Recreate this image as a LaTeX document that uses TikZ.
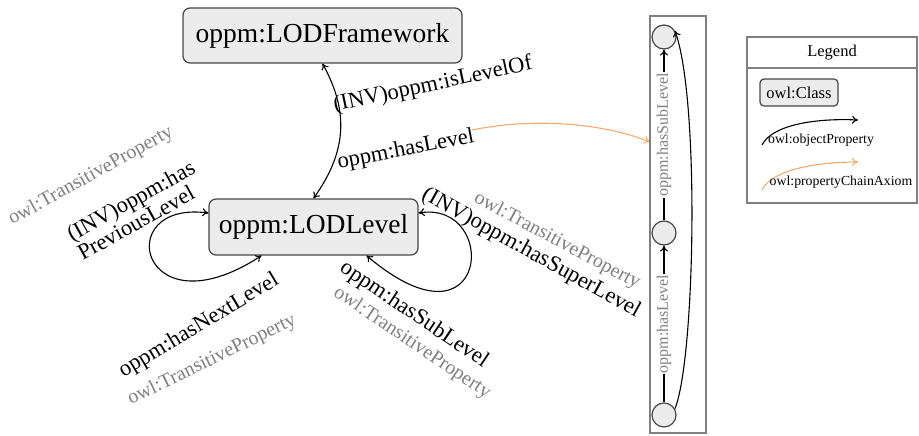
\documentclass[tikz,border=0pt]{standalone}
\usepackage{fontspec}
\setmainfont{Liberation Serif}
\usetikzlibrary{positioning, arrows.meta}

\definecolor{clsfill}{RGB}{236,236,236}
\definecolor{clsdraw}{RGB}{70,70,70}
\definecolor{axgray}{RGB}{128,128,128}
\definecolor{chainorange}{RGB}{242,170,110}

\tikzset{
  cls/.style={rectangle, rounded corners=7pt, draw=clsdraw, fill=clsfill, line width=1.2pt, font=\fontsize{27.5}{33}\selectfont, inner sep=0pt},
  prop/.style={font=\fontsize{22.5}{22}\selectfont, inner sep=0pt},
  trans/.style={font=\fontsize{20}{24}\selectfont, text=axgray, inner sep=0pt},
  rel/.style={draw=black, line width=1.1pt, >={To[length=6pt,width=8pt]}},
  chain/.style={draw=chainorange, line width=1.1pt, ->, >={To[length=6pt,width=8pt]}},
  blank/.style={circle, draw=clsdraw, fill=clsfill, line width=1.2pt, minimum size=24pt, inner sep=0pt},
  frame/.style={rectangle, draw=axgray, line width=1.3pt, inner sep=0pt},
  chainlbl/.style={font=\fontsize{16}{19}\selectfont, text=axgray, fill=white, inner sep=1pt},
  keyfont/.style={font=\fontsize{13.8}{16}\selectfont, inner sep=0pt},
}

\begin{document}
\begin{tikzpicture}[x=1pt, y=-1pt]
  \useasboundingbox (0,0) rectangle (919,436);

  % classes
  \node[cls, minimum width=279pt, minimum height=55pt] (fw) at (322.5,35.5) {oppm:LODFramework};
  \node[cls, minimum width=209pt, minimum height=56pt] (lvl) at (313.5,227) {oppm:LODLevel};

  % framework <-> level
  \draw[rel, <->] (fw.south) .. controls (348,110) and (348,150) .. (lvl.north);
  \node[prop, rotate=12] (isLevelOf) at (433,85) {(INV)oppm:isLevelOf};
  \node[prop, rotate=11] (hasLevel) at (406,150) {oppm:hasLevel};

  % next / previous
  \draw[rel, <->] ([yshift=14pt]lvl.west) .. controls (110,200) and (140,335) .. ([xshift=-52pt]lvl.south);
  \node[trans, rotate=29] (prevTrans) at (91,176) {owl:TransitiveProperty};
  \node[prop, rotate=29, align=left] (hasPrev) at (136,210) {(INV)oppm:has\\PreviousLevel};
  \node[prop, rotate=31] (hasNext) at (199,326) {oppm:hasNextLevel};
  \node[trans, rotate=26] (nextTrans) at (212,360) {owl:TransitiveProperty};

  % sub / super
  \draw[rel, <->] ([yshift=14pt]lvl.east) .. controls (500,200) and (490,360) .. ([xshift=53pt]lvl.south);
  \node[trans, rotate=-28] (superTrans) at (557,241) {owl:TransitiveProperty};
  \node[prop, rotate=-29] (hasSuper) at (531,253) {(INV)oppm:hasSuperLevel};
  \node[prop, rotate=-34] (hasSub) at (414,315) {oppm:hasSubLevel};
  \node[trans, rotate=-34] (subTrans) at (412,343) {owl:TransitiveProperty};

  % property chain
  \coordinate (chainfrom) at (472,130);
  \coordinate (chainto) at (650,142);
  \draw[chain] (chainfrom) .. controls (530,118) and (600,122) .. (chainto);

  \node[frame, minimum width=56pt, minimum height=417pt] (chainbox) at (678,224.5) {};
  \node[blank] (b1) at (664,415) {};
  \node[blank] (b2) at (664,233) {};
  \node[blank] (b3) at (664,37) {};
  \draw[rel, ->] (b1) -- node[chainlbl, sloped] (lblLevel) {oppm:hasLevel} (b2);
  \draw[rel, ->] (b2) -- node[chainlbl, sloped] (lblSub) {oppm:hasSubLevel} (b3);
  \draw[rel, ->] (b1.30) .. controls (695,360) and (700,100) .. (b3.30);

  % legend
  \node[frame, minimum width=170pt, minimum height=166pt] (legend) at (832,120) {};
  \node[font=\fontsize{16.5}{19}\selectfont] (legendtitle) at (832,53) {Legend};
  \coordinate (titlesep) at (747,68);
  \draw[draw=axgray, line width=1.3pt] (titlesep) -- (legend.east |- titlesep);
  \node[cls, font=\fontsize{16.5}{19}\selectfont, rounded corners=4pt, minimum width=78pt, minimum height=27pt] (clskey) at (799,92.5) {owl:Class};

  \coordinate (objfrom) at (762,145);
  \coordinate (objto) at (858,120);
  \draw[rel, ->] (objfrom) .. controls (772,125) and (815,118) .. (objto);
  \node[keyfont] (objkey) at (821,140) {owl:objectProperty};

  \coordinate (pcafrom) at (762,190);
  \coordinate (pcato) at (858,162);
  \draw[chain] (pcafrom) .. controls (772,170) and (815,162) .. (pcato);
  \node[keyfont] (pcakey) at (841,182) {owl:propertyChainAxiom};
\end{tikzpicture}
\end{document}
